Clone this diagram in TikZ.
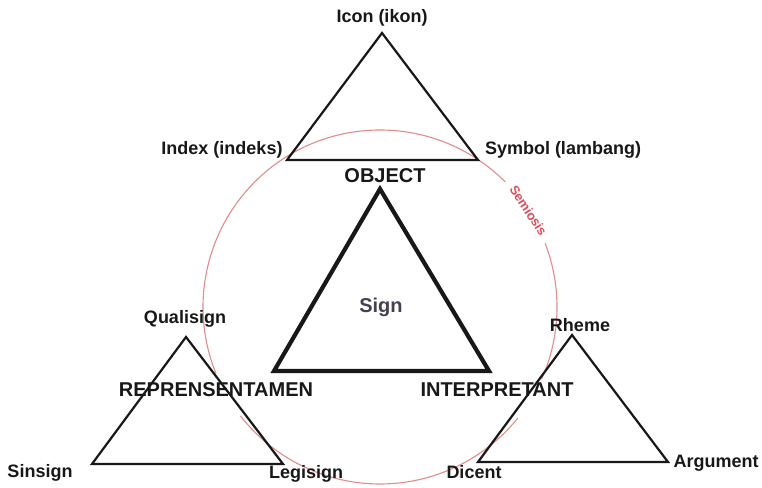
\documentclass[tikz,border=0pt]{standalone}
\usepackage{fontspec}
\setmainfont{Liberation Sans}
\usepackage{tikz}
\usetikzlibrary{positioning}
\definecolor{ringpink}{RGB}{226, 140, 140}
\definecolor{semired}{RGB}{222, 76, 88}
\definecolor{signgray}{RGB}{66, 66, 82}
\definecolor{inkblack}{RGB}{24, 24, 24}
\tikzset{every node/.style={font=\bfseries, text=inkblack, inner sep=0pt}, every path/.style={line cap=round, line join=round}}

\begin{document}
\begin{tikzpicture}[x=1pt, y=1pt,
    tri/.style={draw=inkblack, line width=2.2pt, line join=miter},
    signtri/.style={draw=inkblack, line width=4.2pt, line join=miter},
    small/.style={anchor=base, font=\fontsize{18}{20}\selectfont\bfseries},
    big/.style={anchor=base, font=\fontsize{20}{22}\selectfont\bfseries},
    ring/.style={draw=ringpink, line width=1.1pt}
    ]
    \useasboundingbox (0,0) rectangle (762,487);

    % semiosis circle, broken at the labels
    \coordinate (circ) at (380,180);
    \draw [ring] (circ) ++(45:177) arc [start angle=45, end angle=202, radius=177];
    \draw [ring] (circ) ++(218:177) arc [start angle=218, end angle=321, radius=177];
    \draw [ring] (circ) ++(336:177) arc [start angle=336, end angle=381, radius=177];
    \path (circ) ++(33:177) node [rotate=-57, text=semired, font=\fontsize{13}{15}\selectfont\bfseries] (semio) {Semiosis};

    % vertices
    \coordinate (objTop) at (382,454);
    \coordinate (objL) at (287,327);
    \coordinate (objR) at (478,327);
    \coordinate (signTop) at (380,298);
    \coordinate (signL) at (274,116);
    \coordinate (signR) at (489,116);
    \coordinate (repTop) at (186,150);
    \coordinate (repL) at (92,23);
    \coordinate (repR) at (283,23);
    \coordinate (intTop) at (572,152);
    \coordinate (intL) at (478,25);
    \coordinate (intR) at (668,25);

    % triangles
    \draw [tri] (objTop) -- (objL) -- (objR) -- cycle;
    \draw [signtri] (signTop) -- (signL) -- (signR) -- cycle;
    \draw [tri] (repTop) -- (repL) -- (repR) -- cycle;
    \draw [tri] (intTop) -- (intL) -- (intR) -- cycle;

    % labels
    \node [small] (icon) at (382,464) {Icon (ikon)};
    \node [small] (index) at (222,332) {Index (indeks)};
    \node [small] (symbol) at (563,332) {Symbol (lambang)};
    \node [big] (object) at (385,304) {OBJECT};
    \node [big, text=signgray] (sign) at (381,174) {Sign};
    \node [small] (quali) at (185,163) {Qualisign};
    \node [big] (repre) at (216,90) {REPRENSENTAMEN};
    \node [small] (sin) at (40,10) {Sinsign};
    \node [small] (legi) at (306,9) {Legisign};
    \node [small] (rheme) at (580,155) {Rheme};
    \node [big] (interp) at (497,90) {INTERPRETANT};
    \node [small] (dicent) at (474,9) {Dicent};
    \node [small] (argu) at (716,20) {Argument};
\end{tikzpicture}
\end{document}
